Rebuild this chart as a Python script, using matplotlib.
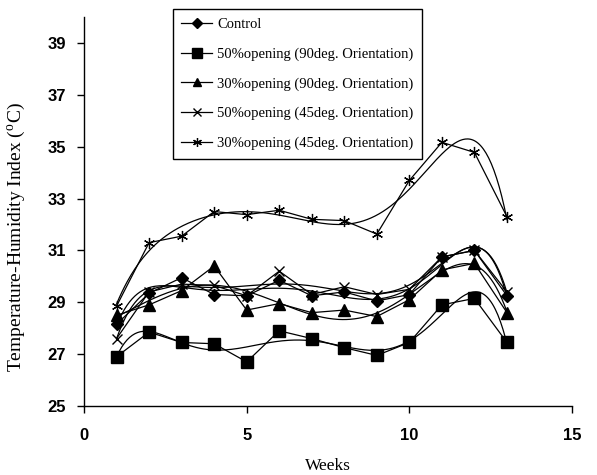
import numpy as np
import matplotlib.pyplot as plt

plt.rcParams['font.family'] = ['Liberation Serif', 'DejaVu Serif']

weeks = np.arange(1, 14)
control = [28.15, 29.35, 29.95, 29.3, 29.25, 29.85, 29.25, 29.4, 29.05, 29.3, 30.75, 31.0, 29.25]
open50_90 = [26.9, 27.85, 27.45, 27.4, 26.7, 27.9, 27.6, 27.25, 26.95, 27.45, 28.9, 29.15, 27.45]
open30_90 = [28.5, 28.9, 29.45, 30.4, 28.7, 28.95, 28.6, 28.7, 28.45, 29.1, 30.25, 30.5, 28.6]
open50_45 = [27.6, 29.4, 29.7, 29.65, 29.25, 30.2, 29.3, 29.6, 29.3, 29.5, 30.75, 31.0, 29.4]
open30_45 = [28.85, 31.3, 31.55, 32.5, 32.38, 32.55, 32.2, 32.15, 31.63, 33.7, 35.17, 34.78, 32.3]

labels = ['Control',
          '50%opening (90deg. Orientation)',
          '30%opening (90deg. Orientation)',
          '50%opening (45deg. Orientation)',
          '30%opening (45deg. Orientation)']
series = [control, open50_90, open30_90, open50_45, open30_45]
markers = [('D', 6.5), ('s', 8.5), ('^', 8), ('x', 7.5), ('*', 0)]

fig = plt.figure(figsize=(5.97, 4.75), dpi=100)
ax = fig.add_axes([0.1407, 0.1453, 0.8175, 0.8187])

xs = np.linspace(1, 13, 300)
handles = []
for vals, (m, ms), lab in zip(series, markers, labels):
    vals = np.array(vals)
    if m == '*':
        # asterisk: x plus vertical bar
        h, = ax.plot(weeks, vals, color='black', lw=0.9, marker=(6, 2, 0),
                     ms=8, mec='black', mew=0.9, label=lab)
    else:
        h, = ax.plot(weeks, vals, color='black', lw=0.9, marker=m, ms=ms,
                     mfc='black', mec='black', mew=1.0, label=lab)
    handles.append(h)
    # polynomial trend line (order 6)
    c = np.polyfit(weeks, vals, 6)
    ax.plot(xs, np.polyval(c, xs), color='black', lw=0.9)

ax.set_xlim(0, 15)
ax.set_ylim(25, 40)
ax.set_xticks([0, 5, 10, 15])
ax.set_yticks([25, 27, 29, 31, 33, 35, 37, 39])
for s in ['top', 'right']:
    ax.spines[s].set_visible(False)
for s in ['left', 'bottom']:
    ax.spines[s].set_linewidth(1.0)
ax.tick_params(axis='x', direction='out', length=5, width=1.0, pad=11)
ax.tick_params(axis='y', direction='out', length=5, width=1.0, pad=8)
for t in ax.get_xticklabels() + ax.get_yticklabels():
    t.set_family('Liberation Sans')
    t.set_fontweight('bold')
    t.set_fontsize(12)

ax.set_xlabel('Weeks', fontsize=12.5, labelpad=11)
ax.set_ylabel('Temperature-Humidity Index ($^\\mathregular{o}$C)', fontsize=14)
ax.yaxis.set_label_coords(-0.115, 0.435)

leg = ax.legend(handles=handles, loc='upper left', bbox_to_anchor=(0.289, 0.981),
                bbox_transform=fig.transFigure, borderaxespad=0, fancybox=False,
                edgecolor='black', framealpha=1, fontsize=10.5, handlelength=2.1,
                labelspacing=1.12, borderpad=0.6, handletextpad=0.35,
                markerscale=0.8)
leg.get_frame().set_linewidth(1.0)

fig.savefig('out.png', dpi=100)
